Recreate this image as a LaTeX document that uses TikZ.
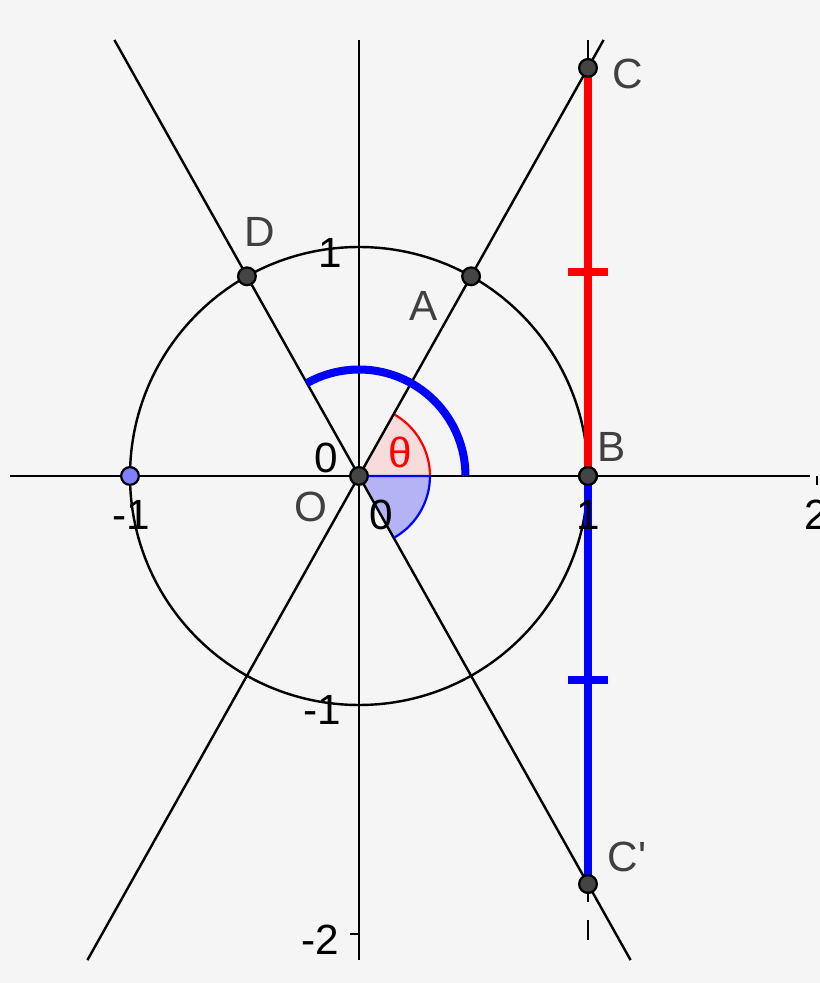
\documentclass[tikz,border=0pt]{standalone}
\usepackage{fontspec}
\setmainfont{Liberation Sans}[Ligatures=TeXOff]
\definecolor{bggray}{HTML}{F5F5F5}
\definecolor{ptgray}{HTML}{444444}
\definecolor{lblgray}{HTML}{404040}
\definecolor{ptblue}{HTML}{7F7FFF}
\definecolor{redfill}{HTML}{F8DCDC}
\definecolor{bluefill}{HTML}{B4B4F4}
\def\ang{60.7}
\begin{document}
\begin{tikzpicture}[x=4cm,y=4cm,
	every node/.style={font=\fontsize{21}{25}\selectfont, inner sep=0pt},
	thinline/.style={line width=1.2pt, black},
	thickline/.style={line width=4pt},
	pt/.style={circle, draw=black, fill=ptgray, line width=1.1pt, minimum size=0.31cm},
	lbl/.style={text=lblgray}]
	\fill[bggray] (-1.5677,-2.214) rectangle (2.013,2.0786);
	\useasboundingbox (-1.5677,-2.214) rectangle (2.013,2.0786);
	% angle sectors
	\fill[redfill] (0,0) -- (0.31,0) arc (0:\ang:0.31) -- cycle;
	\draw[red, line width=1.1pt] (0.31,0) arc (0:\ang:0.31);
	\fill[bluefill] (0,0) -- (0.31,0) arc (0:-\ang:0.31) -- cycle;
	% axes and lines
	\coordinate (xl) at (-1.524,0);
	\coordinate (xr) at (1.969,0);
	\coordinate (yt) at (0,1.904);
	\coordinate (yb) at (0,-2.114);
	\coordinate (Ltop) at (1.068,1.904);
	\coordinate (Lbot) at (-1.186,-2.114);
	\coordinate (Ktop) at (-1.068,1.904);
	\coordinate (Kbot) at (1.186,-2.114);
	\coordinate (Vtop) at (1,1.904);
	\coordinate (Vbot) at (1,-1.860);
	\coordinate (Vda) at (1,-1.939);
	\coordinate (Vdb) at (1,-2.026);
	\draw[thinline] (xl) -- (xr);
	\draw[thinline] (yt) -- (yb);
	\foreach \x in {-1,1,2} \draw[thinline] (\x,0) -- (\x,-0.04);
	\foreach \y in {-2,-1,1} \draw[thinline] (0,\y) -- (-0.04,\y);
	\draw[thinline] (0,0) circle (1);
	\draw[thinline] (Lbot) -- (Ltop);
	\draw[thinline] (Kbot) -- (Ktop);
	\draw[thinline] (Vtop) -- (Vbot);
	\draw[thinline] (Vda) -- (Vdb);
	\draw[blue, line width=1.1pt] (0,0) -- (0.31,0) arc (0:-\ang:0.31);
	% points
	\node[pt] (O) at (0,0) {};
	\node[pt] (A) at (\ang:1) {};
	\node[pt] (D) at (180-\ang:1) {};
	\node[pt] (B) at (1,0) {};
	\node[pt, fill=ptblue] (E) at (-1,0) {};
	\coordinate (Cc) at (1,{tan(\ang)});
	\coordinate (Cpc) at (1,{-tan(\ang)});
	\draw[red, thickline] (Cc) -- (B.center);
	\draw[blue, thickline] (B.center) -- (Cpc);
	\draw[red, thickline] (0.913,0.891) -- (1.087,0.891);
	\draw[blue, thickline] (0.913,-0.891) -- (1.087,-0.891);
	\draw[blue, thickline] (0.465,0) arc (0:180-\ang:0.465);
	\node[pt] (B) at (1,0) {};
	\node[pt] (C) at (Cc) {};
	\node[pt] (Cp) at (Cpc) {};
	% labels
	\node[lbl] (labC) at (1.175,1.755) {C};
	\node[lbl] (labB) at (1.105,0.127) {B};
	\node[lbl] (labCp) at (1.17,-1.664) {C'};
	\node[lbl] (labA) at (0.284,0.742) {A};
	\node[lbl] (labD) at (-0.432,1.066) {D};
	\node[lbl] (labO) at (-0.21,-0.135) {O};
	\node[red] (labth) at (0.179,0.105) {θ};
	\node (zeroa) at (-0.144,0.079) {0};
	\node (zerob) at (0.096,-0.17) {0};
	\node (xm1) at (-0.996,-0.17) {-1};
	\node (xp1) at (1,-0.17) {1};
	\node (xp2) at (1.995,-0.17) {2};
	\node (yp1) at (-0.127,0.974) {1};
	\node (ym1) at (-0.16,-1.022) {-1};
	\node (ym2) at (-0.17,-2.026) {-2};
\end{tikzpicture}
\end{document}
